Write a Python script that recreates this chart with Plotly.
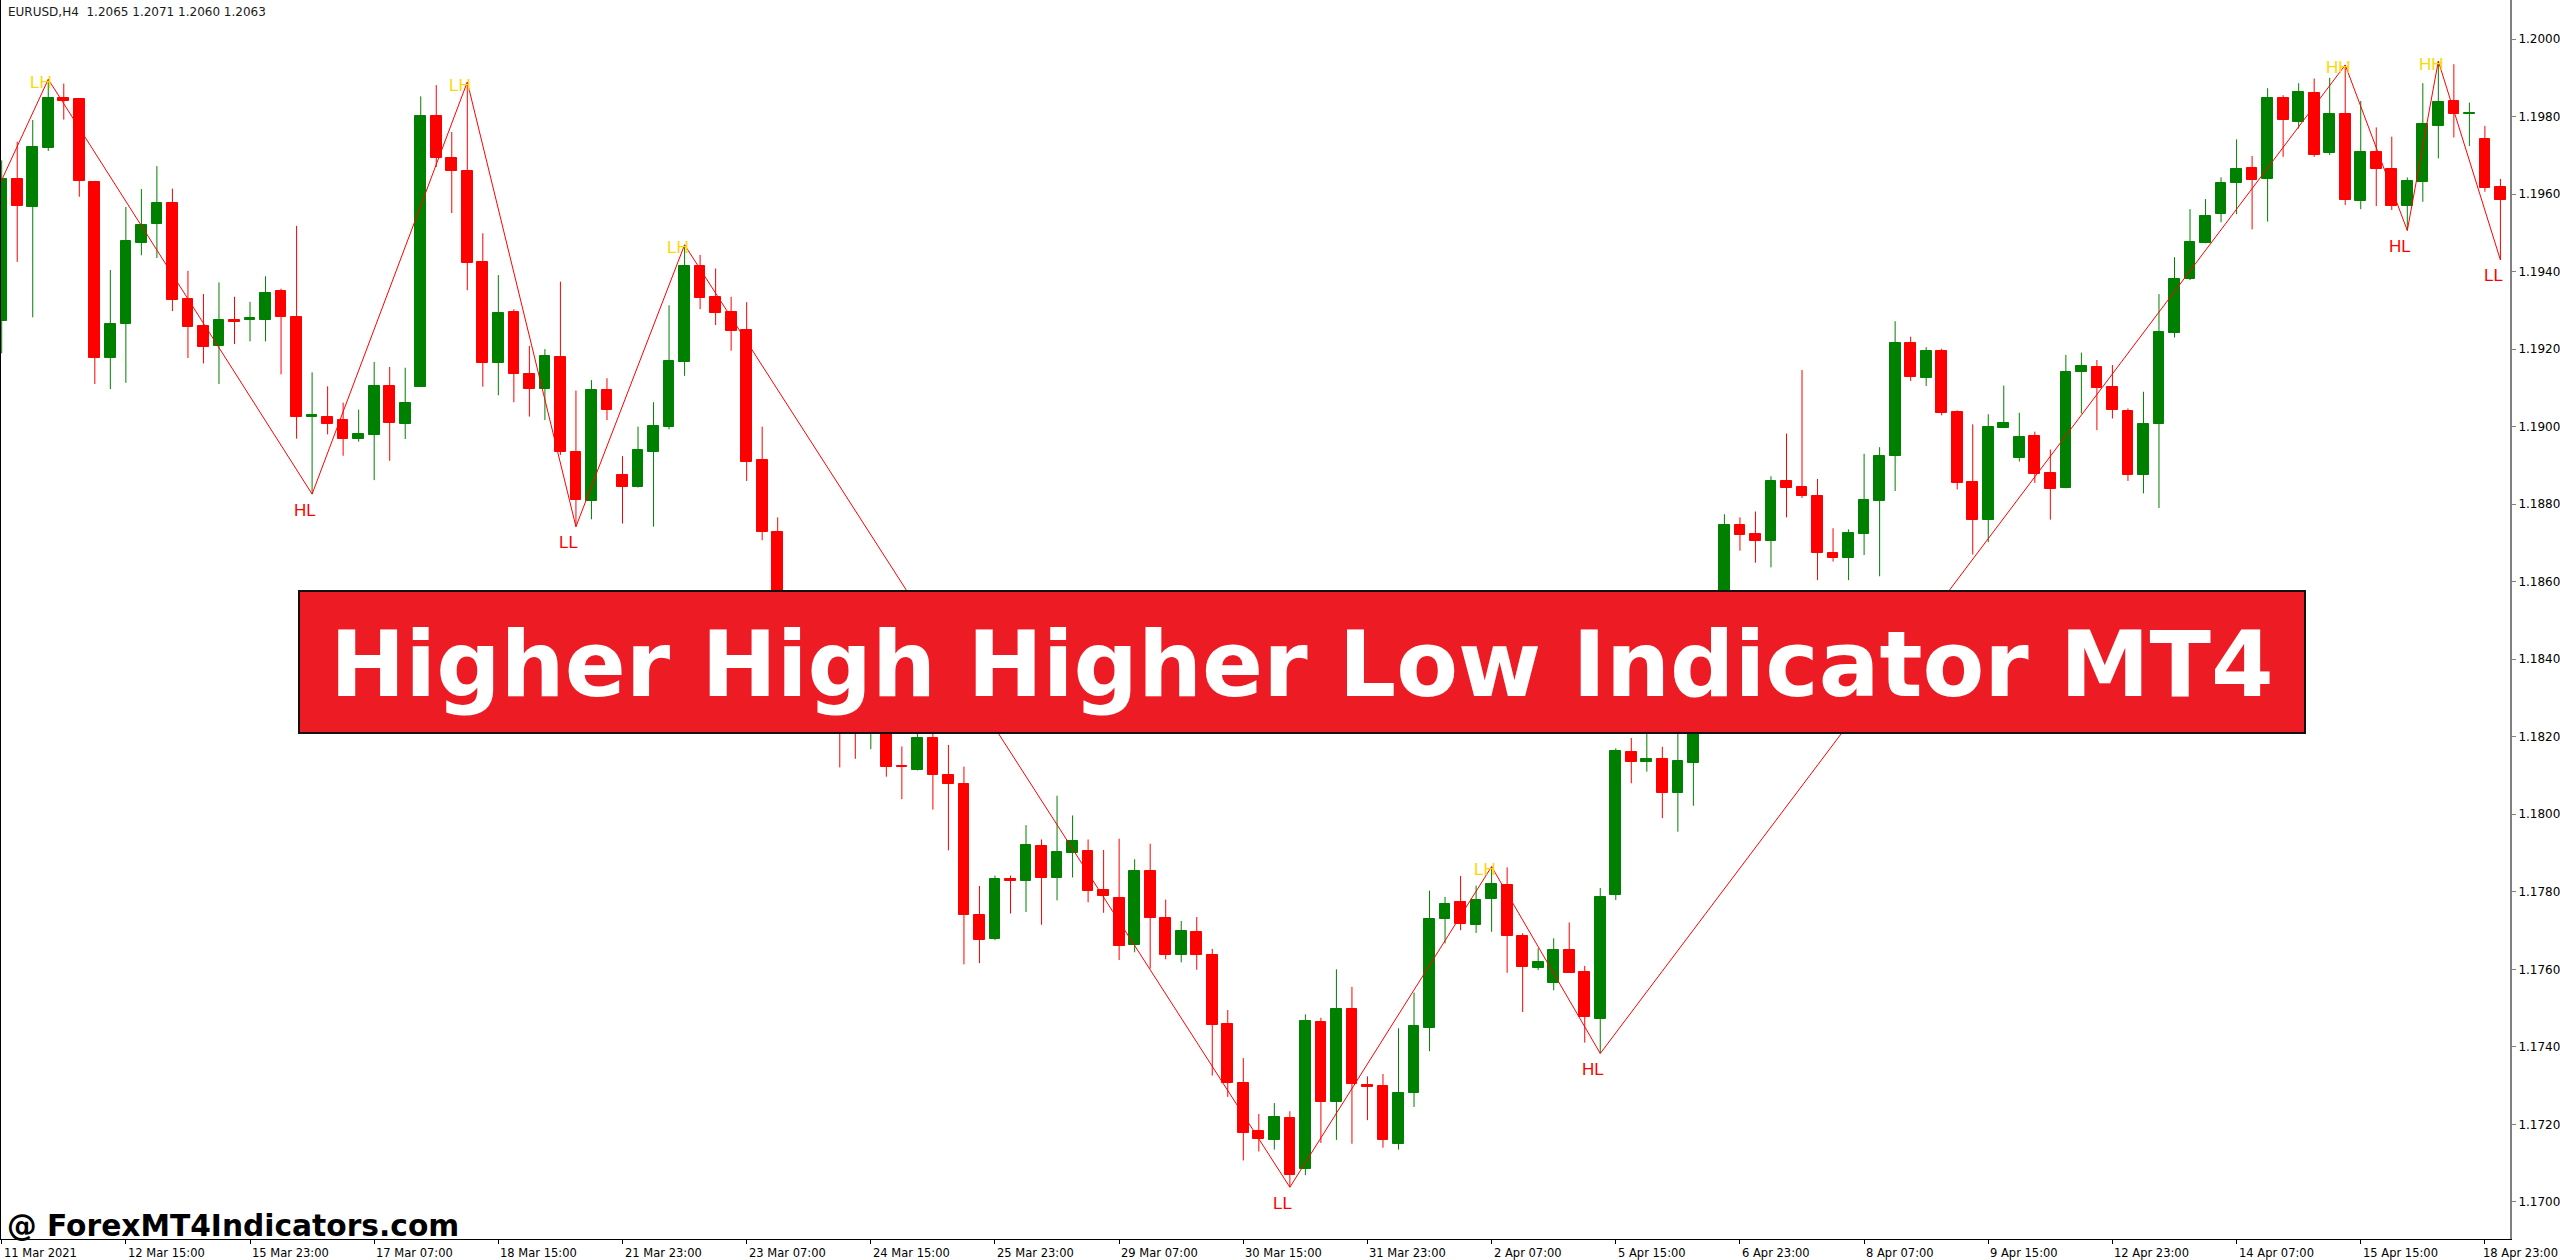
import plotly.graph_objects as go

# ---------------- data (EURUSD H4) ----------------
open_ = [1.19273,1.19638,1.19567,1.19720,1.19848,1.19845,1.19632,1.19177,1.19264,1.19475,
         1.19523,1.19577,1.19330,1.19259,1.19208,1.19276,1.19276,1.19276,1.19349,1.19284,
         1.19026,1.19026,1.19017,1.18969,1.18978,1.19104,1.19008,1.19103,1.19802,1.19692,
         1.19660,1.19426,1.19165,1.19295,1.19137,1.19098,1.19180,1.18935,1.18808,1.19094,
         1.18874,1.18845,1.18935,1.18999,1.19168,1.19414,1.19334,1.19297,1.19249,1.18914,
         1.18729,1.18400,1.18480,1.18380,1.18320,1.18280,1.18230,1.18310,1.18125,1.18115,
         1.18197,1.18102,1.18077,1.17741,1.17679,1.17833,1.17828,1.17918,1.17835,1.17900,
         1.17905,1.17804,1.17785,1.17662,1.17853,1.17733,1.17638,1.17697,1.17638,1.17459,
         1.17307,1.17182,1.17160,1.17217,1.17085,1.17465,1.17258,1.17499,1.17301,1.17300,
         1.17150,1.17282,1.17450,1.17730,1.17773,1.17714,1.17781,1.17817,1.17687,1.17604,
         1.17566,1.17650,1.17592,1.17471,1.17792,1.18160,1.18136,1.18142,1.18056,1.18133,
         1.18380,1.18500,1.18746,1.18722,1.18705,1.18860,1.18844,1.18821,1.18674,1.18660,
         1.18724,1.18809,1.18923,1.19215,1.19125,1.19195,1.19037,1.18857,1.18759,1.18997,
         1.18920,1.18977,1.18881,1.18841,1.19142,1.19155,1.19101,1.19040,1.18875,1.19008,
         1.19241,1.19380,1.19475,1.19548,1.19629,1.19668,1.19639,1.19849,1.19787,1.19860,
         1.19707,1.19806,1.19583,1.19708,1.19665,1.19570,1.19632,1.19776,1.19840,1.19806,
         1.19742,1.19617]
high = [1.19687,1.19735,1.19791,1.19896,1.19885,1.19847,1.19634,1.19404,1.19567,1.19613,
        1.19672,1.19614,1.19402,1.19342,1.19372,1.19335,1.19322,1.19388,1.19356,1.19518,
        1.19140,1.19104,1.19062,1.19044,1.19167,1.19154,1.19152,1.19852,1.19881,1.19760,
        1.19889,1.19499,1.19391,1.19303,1.19208,1.19200,1.19374,1.19093,1.19120,1.19125,
        1.18924,1.19000,1.19063,1.19313,1.19469,1.19443,1.19408,1.19335,1.19321,1.19000,
        1.18766,1.18530,1.18550,1.18430,1.18400,1.18340,1.18380,1.18360,1.18175,1.18230,
        1.18240,1.18179,1.18123,1.17815,1.17842,1.17842,1.17972,1.17935,1.18048,1.17997,
        1.17935,1.17908,1.17937,1.17884,1.17924,1.17780,1.17725,1.17735,1.17653,1.17495,
        1.17371,1.17227,1.17255,1.17234,1.17484,1.17475,1.17600,1.17555,1.17324,1.17330,
        1.17448,1.17540,1.17803,1.17787,1.17841,1.17816,1.17865,1.17863,1.17693,1.17654,
        1.17680,1.17721,1.17609,1.17810,1.18170,1.18197,1.18210,1.18174,1.18210,1.18430,
        1.18560,1.18774,1.18766,1.18781,1.18872,1.18982,1.19146,1.18865,1.18738,1.18735,
        1.18930,1.18947,1.19272,1.19232,1.19205,1.19201,1.19042,1.19006,1.19032,1.19106,
        1.19036,1.18987,1.18941,1.19185,1.19191,1.19172,1.19159,1.19047,1.19090,1.19342,
        1.19437,1.19561,1.19587,1.19643,1.19741,1.19698,1.19873,1.19855,1.19886,1.19898,
        1.19900,1.19933,1.19840,1.19772,1.19748,1.19643,1.19886,1.19943,1.19935,1.19836,
        1.19776,1.19639]
low = [1.19189,1.19425,1.19282,1.19711,1.19792,1.19593,1.19110,1.19097,1.19113,1.19442,
       1.19435,1.19298,1.19177,1.19163,1.19110,1.19213,1.19220,1.19220,1.19135,1.18969,
       1.18826,1.18980,1.18925,1.18961,1.18862,1.18912,1.18968,1.19103,1.19670,1.19551,
       1.19352,1.19103,1.19081,1.19063,1.19026,1.19017,1.18927,1.18742,1.18761,1.19017,
       1.18750,1.18843,1.18742,1.18993,1.19131,1.19303,1.19262,1.19196,1.18860,1.18707,
       1.18350,1.18340,1.18300,1.18220,1.18121,1.18143,1.18168,1.18097,1.18039,1.18113,
       1.18012,1.17907,1.17613,1.17616,1.17675,1.17744,1.17748,1.17715,1.17778,1.17837,
       1.17773,1.17746,1.17624,1.17644,1.17602,1.17626,1.17618,1.17599,1.17326,1.17271,
       1.17107,1.17130,1.17135,1.17038,1.17069,1.17152,1.17160,1.17150,1.17211,1.17140,
       1.17135,1.17245,1.17389,1.17667,1.17701,1.17694,1.17697,1.17591,1.17490,1.17598,
       1.17546,1.17591,1.17411,1.17383,1.17779,1.18080,1.18110,1.17990,1.17955,1.18022,
       1.18320,1.18460,1.18680,1.18649,1.18637,1.18766,1.18816,1.18604,1.18652,1.18604,
       1.18669,1.18614,1.18834,1.19118,1.19105,1.19029,1.18838,1.18670,1.18702,1.18997,
       1.18910,1.18855,1.18760,1.18841,1.19034,1.18991,1.19021,1.18860,1.18828,1.18790,
       1.19230,1.19378,1.19473,1.19527,1.19548,1.19509,1.19529,1.19696,1.19769,1.19696,
       1.19701,1.19572,1.19561,1.19569,1.19559,1.19506,1.19580,1.19692,1.19746,1.19724,
       1.19606,1.19430]
close = [1.19638,1.19569,1.19722,1.19849,1.19841,1.19633,1.19177,1.19264,1.19480,1.19520,
         1.19577,1.19326,1.19258,1.19206,1.19276,1.19270,1.19280,1.19346,1.19283,1.19025,
         1.19029,1.19008,1.18968,1.18982,1.19104,1.19010,1.19062,1.19802,1.19692,1.19660,
         1.19421,1.19165,1.19292,1.19136,1.19098,1.19183,1.18935,1.18811,1.19094,1.19043,
         1.18845,1.18940,1.19001,1.19169,1.19414,1.19331,1.19294,1.19247,1.18909,1.18727,
         1.18400,1.18480,1.18380,1.18290,1.18250,1.18230,1.18310,1.18121,1.18121,1.18197,
         1.18102,1.18079,1.17741,1.17675,1.17833,1.17829,1.17922,1.17835,1.17902,1.17932,
         1.17802,1.17788,1.17661,1.17853,1.17733,1.17638,1.17700,1.17638,1.17457,1.17307,
         1.17178,1.17163,1.17219,1.17070,1.17467,1.17258,1.17499,1.17304,1.17297,1.17160,
         1.17280,1.17454,1.17731,1.17768,1.17717,1.17780,1.17820,1.17687,1.17605,1.17619,
         1.17650,1.17591,1.17478,1.17787,1.18163,1.18136,1.18142,1.18054,1.18138,1.18380,
         1.18500,1.18746,1.18720,1.18705,1.18860,1.18843,1.18821,1.18675,1.18662,1.18726,
         1.18811,1.18925,1.19215,1.19128,1.19195,1.19036,1.18855,1.18758,1.18999,1.19009,
         1.18974,1.18879,1.18838,1.19140,1.19156,1.19100,1.19043,1.18875,1.19007,1.19245,
         1.19380,1.19477,1.19544,1.19628,1.19665,1.19636,1.19849,1.19791,1.19862,1.19701,
         1.19806,1.19585,1.19709,1.19665,1.19570,1.19634,1.19780,1.19837,1.19806,1.19810,
         1.19615,1.19585]

# zigzag swing points (bar index, price, label)
zz_idx = [-4, 3, 20, 30, 37, 44, 83, 96, 103, 151, 155, 157, 161]
zz_price = [1.19290, 1.19896, 1.18826, 1.19889, 1.18742, 1.19469, 1.17038,
            1.17865, 1.17383, 1.19933, 1.19506, 1.19943, 1.19430]
zz_label = ["", "LH", "HL", "LH", "LL", "LH", "LL", "LH", "HL", "HH", "HL", "HH", "LL"]

# time axis labels (every 8 bars)
x_tick_idx = [0, 8, 16, 24, 32, 40, 48, 56, 64, 72, 80, 88, 96, 104, 112, 120,
              128, 136, 144, 152, 160]
x_tick_text = ["11 Mar 2021", "12 Mar 15:00", "15 Mar 23:00", "17 Mar 07:00",
               "18 Mar 15:00", "21 Mar 23:00", "23 Mar 07:00", "24 Mar 15:00",
               "25 Mar 23:00", "29 Mar 07:00", "30 Mar 15:00", "31 Mar 23:00",
               "2 Apr 07:00", "5 Apr 15:00", "6 Apr 23:00", "8 Apr 07:00",
               "9 Apr 15:00", "12 Apr 23:00", "14 Apr 07:00", "15 Apr 15:00",
               "18 Apr 23:00"]
y_tick_vals = [1.1700, 1.1720, 1.1740, 1.1760, 1.1780, 1.1800, 1.1820, 1.1840,
               1.1860, 1.1880, 1.1900, 1.1920, 1.1940, 1.1960, 1.1980, 1.2000]
y_tick_text = ["1.1700", "1.1720", "1.1740", "1.1760", "1.1780", "1.1800",
               "1.1820", "1.1840", "1.1860", "1.1880", "1.1900", "1.1920",
               "1.1940", "1.1960", "1.1980", "1.2000"]

header_text = "EURUSD,H4  1.2065 1.2071 1.2060 1.2063"
banner_text = "Higher High Higher Low Indicator MT4"
watermark_text = "@ ForexMT4Indicators.com"

# ---------------- drawing ----------------
GREEN = "#008000"
RED = "#FF0000"
n = len(open_)
idx = list(range(n))
bull = [c >= o for o, c in zip(open_, close)]
colors = [GREEN if b else RED for b in bull]

fig = go.Figure()

for want, col in ((True, GREEN), (False, RED)):
    wx, wy = [], []
    for i in idx:
        if bull[i] == want:
            wx += [i, i, None]
            wy += [low[i], high[i], None]
    fig.add_trace(go.Scatter(x=wx, y=wy, mode="lines", line=dict(color=col, width=1),
                             hoverinfo="skip"))

fig.add_trace(go.Bar(
    x=idx,
    base=[min(o, c) for o, c in zip(open_, close)],
    y=[abs(c - o) for o, c in zip(open_, close)],
    width=0.69,
    marker=dict(color=colors, line=dict(color=colors, width=1)),
    hoverinfo="skip",
))

fig.add_trace(go.Scatter(x=zz_idx, y=zz_price, mode="lines",
                         line=dict(color=RED, width=1), hoverinfo="skip"))

annotations = []
for i, p, t in zip(zz_idx, zz_price, zz_label):
    if not t:
        continue
    is_high = t in ("LH", "HH")
    annotations.append(dict(
        x=i, y=p, xref="x", yref="y", text=t, showarrow=False,
        xanchor="center", yanchor="middle", xshift=-7,
        yshift=-3 if is_high else -16,
        font=dict(family="Liberation Sans", size=17,
                  color="#FFD700" if is_high else RED)))

for k, (i, t) in enumerate(zip(x_tick_idx, x_tick_text)):
    last = k == len(x_tick_idx) - 1
    annotations.append(dict(
        x=i, y=0, xref="x", yref="paper", text=t, showarrow=False,
        xanchor="left", yanchor="middle", yshift=-13.5,
        xshift=-4 if last else 0,
        font=dict(family="DejaVu Sans", size=11.5, color="#000000")))

annotations.append(dict(
    x=6 / 2510, y=1 - 11.7 / 1239, xref="paper", yref="paper", text=header_text,
    showarrow=False, xanchor="left", yanchor="middle",
    font=dict(family="DejaVu Sans", size=12, color="#1a1a1a")))

annotations.append(dict(
    x=(299 + 2305) / 2 / 2510, y=1 - 664.5 / 1239, xref="paper", yref="paper",
    text=banner_text, showarrow=False, xanchor="center", yanchor="middle",
    font=dict(family="DejaVu Sans", size=90, color="#FFFFFF", weight="bold")))

annotations.append(dict(
    x=5 / 2510, y=1 - 1225 / 1239, xref="paper", yref="paper", text=watermark_text,
    showarrow=False, xanchor="left", yanchor="middle",
    font=dict(family="DejaVu Sans", size=29.7, color="#000000", weight="bold")))

shapes = [
    dict(type="rect", xref="paper", yref="paper",
         x0=299 / 2510, x1=2305 / 2510, y0=1 - 733 / 1239, y1=1 - 591 / 1239,
         fillcolor="#ED1C24", line=dict(color="#111111", width=2), layer="above"),
    dict(type="line", xref="paper", yref="paper", x0=0, x1=0, y0=0, y1=1,
         line=dict(color="#000000", width=2)),
]

fig.update_layout(
    width=2560, height=1260, autosize=False,
    margin=dict(l=0, r=50, t=0, b=21, pad=0),
    paper_bgcolor="white", plot_bgcolor="white",
    showlegend=False, bargap=0, barmode="overlay",
    xaxis=dict(range=[-0.1095, 161.617], showgrid=False, zeroline=False,
               showline=True, linecolor="#000000", linewidth=1,
               ticks="outside", tickvals=x_tick_idx, ticklen=4, tickcolor="#000000",
               showticklabels=False, fixedrange=True),
    yaxis=dict(range=[1.169044, 1.201006], side="right", showgrid=False,
               zeroline=False, showline=True, linecolor="#808080", linewidth=2,
               ticks="outside", tickvals=y_tick_vals, ticktext=y_tick_text,
               ticklen=4, tickcolor="#808080",
               tickfont=dict(family="DejaVu Sans", size=12, color="#000000"),
               fixedrange=True),
    annotations=annotations,
    shapes=shapes,
)

fig.write_html("out.html", post_script="document.body.style.margin='0';",
               config={"displayModeBar": False})
